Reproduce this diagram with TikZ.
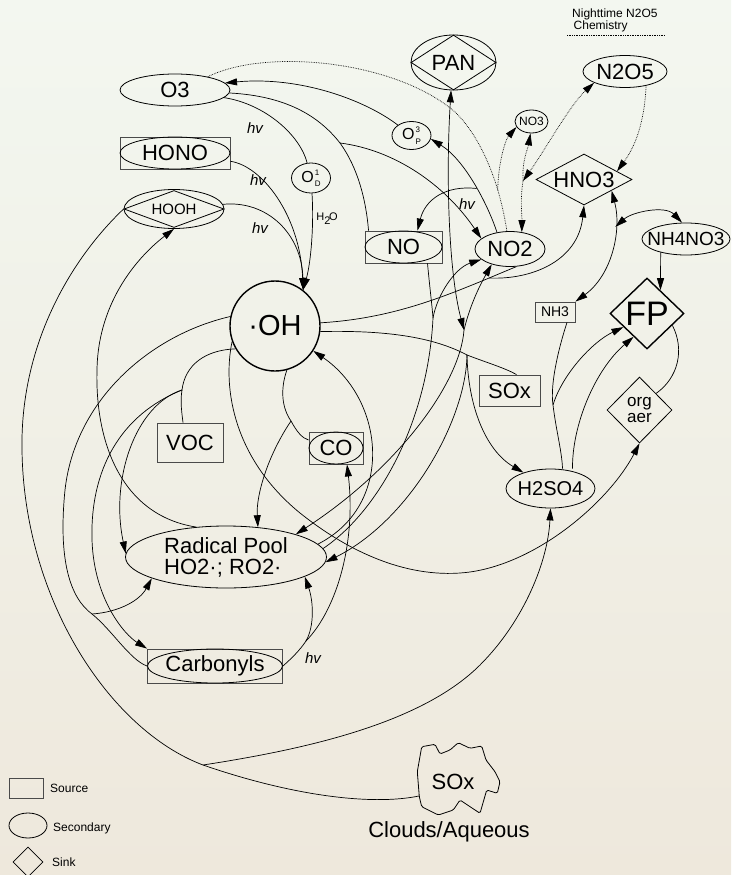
\documentclass[tikz,border=0pt]{standalone}
\usepackage{fontspec}
\setmainfont{Liberation Sans}
\usetikzlibrary{arrows.meta,shapes.geometric,positioning}
\definecolor{bgtop}{HTML}{F3F7F0}
\definecolor{bgbot}{HTML}{EEE8DC}
\definecolor{boxgray}{HTML}{4A4A4A}
\newcommand{\chemsize}[1]{\fontsize{#1}{#1}\selectfont}
\newcommand{\ostate}[2]{O\kern1.2pt\rlap{\raisebox{7pt}{\chemsize{8}#1}}\raisebox{-4.5pt}{\chemsize{8}#2}}

\begin{document}
\begin{tikzpicture}[x=1pt, y=-1pt,
    every node/.style={font=\chemsize{22}},
    src/.style={rectangle, draw=boxgray, line width=0.9pt, inner sep=0pt},
    sec/.style={ellipse, draw, line width=0.8pt, inner sep=0pt},
    sink/.style={diamond, draw, line width=0.8pt, inner sep=0pt},
    rxn/.style={line width=0.7pt},
    rxnto/.style={rxn, -{Triangle[length=12pt,width=7pt]}},
    rxnboth/.style={rxn, {Triangle[length=12pt,width=7pt]}-{Triangle[length=12pt,width=7pt]}},
    night/.style={rxn, densely dotted},
    nightto/.style={night, -{Triangle[length=12pt,width=7pt]}},
    nightboth/.style={night, {Triangle[length=12pt,width=7pt]}-{Triangle[length=12pt,width=7pt]}},
    hv/.style={font=\chemsize{15}\itshape, inner sep=0pt},
    legend/.style={font=\chemsize{12}, anchor=west, inner sep=0pt}
  ]
  \shade[top color=bgtop, bottom color=bgbot] (0,0) rectangle (731,875);
  \useasboundingbox (0,0) rectangle (731,875);

  % species
  \node[sec, minimum width=110pt, minimum height=32pt] (O3) at (175,90) {O3};
  \node[src, minimum width=110pt, minimum height=32pt] (HONO) at (175,153) {HONO};
  \node[sec, minimum width=110pt, minimum height=32pt] (HONOe) at (HONO) {};
  \node[sec, minimum width=100pt, minimum height=39pt, font=\chemsize{15}] (HOOH) at (174,209) {HOOH};
  \node[sink, minimum width=100pt, minimum height=37pt] (HOOHd) at (HOOH) {};
  \node[sec, minimum width=39pt, minimum height=30pt, font=\chemsize{16}] (O1D) at (311,178) {\ostate{1}{D}};
  \node[font=\chemsize{11}, inner sep=0pt] (H2O) at (327,219) {H\raisebox{-4pt}{2}\kern-1.5pt O};
  \node[circle, draw, line width=1.4pt, minimum size=90pt, inner sep=0pt, font=\chemsize{29}] (OH) at (275,326) {·OH};

  \node[sec, minimum width=85pt, minimum height=55pt] (PAN) at (453.5,62.5) {PAN};
  \node[sink, minimum width=85pt, minimum height=55pt] (PANd) at (PAN) {};
  \node[sec, minimum width=39pt, minimum height=28pt, font=\chemsize{16}] (O3P) at (411.5,135.5) {\ostate{3}{P}};
  \node[sec, minimum width=33pt, minimum height=23pt, inner xsep=-2pt, font=\chemsize{12}] (NO3) at (531.5,121.5) {NO3};
  \node[sec, minimum width=84pt, minimum height=32pt] (N2O5) at (625,71.5) {N2O5};
  \node[font=\chemsize{12}, align=left, anchor=north west, inner sep=0pt] (nightlbl) at (572,9) {Nighttime N2O5\\\hspace{1.5pt}Chemistry};
  \node[sink, aspect=1.9, minimum width=96pt, minimum height=51pt] (HNO3) at (584,179.5) {HNO3};
  \node[sec, minimum width=88pt, minimum height=32pt, inner xsep=-8pt, font=\chemsize{19}] (NH4NO3) at (686,239) {NH4NO3};
  \node[src, minimum width=77pt, minimum height=32pt] (NO) at (403.5,247) {NO};
  \node[sec, minimum width=77pt, minimum height=32pt] (NOe) at (NO) {};
  \node[sec, minimum width=70pt, minimum height=35pt] (NO2) at (510,249) {NO2};

  \node[src, minimum width=40pt, minimum height=20pt, font=\chemsize{14}] (NH3) at (555,312) {NH3};
  \node[sink, line width=1.4pt, minimum width=74pt, minimum height=71pt, font=\chemsize{34}] (FP) at (647,313.5) {FP};
  \node[sink, minimum width=65pt, minimum height=66pt, align=center, font=\fontsize{17}{16}\selectfont] (orgaer) at (639.5,410) {org\\aer};
  \node[src, minimum width=61pt, minimum height=31pt] (SOx) at (509.5,390.5) {SOx};
  \node[sec, minimum width=89pt, minimum height=39pt, inner xsep=-3pt, font=\chemsize{20}] (H2SO4) at (550.5,488.5) {H2SO4};

  \node[src, minimum width=66pt, minimum height=39pt] (VOC) at (190,442.5) {VOC};
  \node[src, minimum width=54pt, minimum height=32pt] (CO) at (336,448) {CO};
  \node[sec, minimum width=54pt, minimum height=32pt] (COe) at (CO) {};
  \node[sec, minimum width=201pt, minimum height=62pt, align=left, font=\fontsize{22}{21}\selectfont] (RP) at (226,557) {Radical Pool\\HO2·; RO2·};
  \node[src, minimum width=135pt, minimum height=34pt] (Carbonyls) at (215,666) {Carbonyls};
  \node[sec, minimum width=135pt, minimum height=34pt] (Carbonylse) at (Carbonyls) {};

  \draw[line width=0.8pt, rounded corners=1.5pt] (421.7,746.7) -- (435,744.3) -- (440,754) -- (450,750) -- (458.3,742.7) -- (470,748.3) -- (481.7,746) -- (486,760) -- (495,771.7) -- (500,781.7) -- (497.3,793.3) -- (486.7,790) -- (480,813.3) -- (460,800) -- (453.3,810) -- (438.3,815) -- (421.7,806.7) -- (419.3,796.7) -- (417.3,771.7) -- cycle;
  \node (cloud) at (453,782) {SOx};
  \node (aqlbl) at (449,832) {Clouds/Aqueous};
  \coordinate (cloudin) at (419,796);

  % legend
  \node[src, minimum width=34pt, minimum height=20pt] (legsrc) at (26,788) {};
  \node[legend] (legsrcl) at (50,788) {Source};
  \node[sec, minimum width=38pt, minimum height=25pt] (legsec) at (28,825.5) {};
  \node[legend] (legsecl) at (53,828) {Secondary};
  \node[sink, minimum width=30pt, minimum height=30pt] (legsink) at (28,862) {};
  \node[legend] (legsinkl) at (52,862) {Sink};

  % junctions
  \coordinate (jO3NO) at (340,143);
  \coordinate (jNO3) at (523,181);
  \coordinate (jPAN) at (464,330);
  \coordinate (jSOx) at (467,355);
  \coordinate (jNO) at (433,318);
  \coordinate (jCO) at (291,421);
  \coordinate (jVOC) at (182,390);
  \coordinate (jCarb) at (306,641);

  % photolysis to OH
  \draw[rxn] (O3) .. controls (265,104) and (300,135) .. (O1D);
  \draw[rxnto] (O1D) .. controls (314,225) and (311,262) .. (OH.52);
  \draw[rxnto] (HONO) .. controls (262,166) and (300,215) .. (OH.52);
  \draw[rxnto] (HOOH) .. controls (268,200) and (302,235) .. (OH.52);
  \node[hv] (hv1) at (255,128) {hv};
  \node[hv] (hv2) at (258,180) {hv};
  \node[hv] (hv3) at (260,228) {hv};

  % O3 / NO / NO2 / O3P
  \draw[rxn] (O3) .. controls (285,96) and (318,115) .. (jO3NO);
  \draw[rxn] (jO3NO) .. controls (358,168) and (366,200) .. ([xshift=4pt]NO.north west);
  \draw[rxnto] (jO3NO) .. controls (395,150) and (445,185) .. (NO2.160);
  \draw[rxnto] (O3P) .. controls (365,100) and (300,76) .. (O3.8);
  \draw[rxnto] (NO2.128) .. controls (488,205) and (465,160) .. (O3P.-10) coordinate[pos=.45] (jNOhv);
  \draw[rxnto] (jNOhv) .. controls (445,185) and (425,200) .. ([xshift=14pt]NO.north);
  \node[hv] (hv4) at (467,204) {hv};

  % nighttime chemistry
  \draw[night] (O3.22) .. controls (265,48) and (395,60) .. (455,112) .. controls (482,138) and (500,185) .. (NO2.100) coordinate[pos=.7] (jO3NO2);
  \draw[nightto] (jO3NO2) .. controls (498,165) and (505,140) .. (NO3.200);
  \draw[nightto] (jNO3) .. controls (522,160) and (528,148) .. (NO3.-95);
  \draw[nightto] (jNO3) .. controls (520,200) and (522,215) .. (NO2.55);
  \draw[nightboth] (jNO3) .. controls (545,150) and (570,105) .. (N2O5.-160);
  \draw[nightto] (N2O5.-34) .. controls (645,110) and (640,140) .. (HNO3.14);
  \draw[night] (567,35) -- (665,35);

  % OH + NO2, OH + SOx, PAN
  \draw[rxn] (OH.4) .. controls (400,318) and (455,292) .. (NO2.-70) coordinate[pos=.85] (jNO2);
  \draw[rxnto] (jNO2) .. controls (530,280) and (578,262) .. (HNO3.south);
  \draw[rxn] (OH.-7) .. controls (390,330) and (435,338) .. (jSOx);
  \draw[rxn] (jSOx) .. controls (485,362) and (505,368) .. ([xshift=7pt]SOx.north);
  \draw[rxnto] (jSOx) .. controls (468,405) and (485,450) .. (H2SO4);
  \draw[rxnto] (jSOx) .. controls (466,420) and (410,520) .. (RP.-3);
  \draw[rxnboth] (PAN.-95) .. controls (446,170) and (448,270) .. (jPAN);
  \draw[rxnto] (jPAN) .. controls (470,305) and (480,285) .. (NO2.-140);
  \draw[rxnto] (jPAN) .. controls (460,385) and (395,470) .. (RP.18);

  % radical pool and NO
  \draw[rxn] ([xshift=24pt]NO.south) .. controls (430,290) and (432,305) .. (jNO);
  \draw[rxn] (RP.5) .. controls (380,510) and (428,420) .. (jNO);
  \draw[rxnto] (jNO) .. controls (437,295) and (455,268) .. (NO2.-160);
  \draw[rxnto] (RP.8) .. controls (395,505) and (385,400) .. (OH.-33);

  % CO and VOC
  \draw[rxn] (OH.-75) .. controls (280,390) and (282,408) .. (jCO);
  \draw[rxn] (jCO) .. controls (297,432) and (302,438) .. ([yshift=8pt]CO.west);
  \draw[rxnto] (jCO) .. controls (268,455) and (256,495) .. (RP.43);
  \draw[rxn] (OH.-150) .. controls (205,350) and (185,365) .. (jVOC);
  \draw[rxn] (jVOC) .. controls (180,402) and (182,414) .. ([xshift=-7pt]VOC.north);
  \draw[rxnto] (jVOC) .. controls (135,405) and (110,480) .. (RP.178);
  \draw[rxnto] (jVOC) .. controls (120,415) and (90,470) .. (92,540) .. controls (94,600) and (125,635) .. (Carbonyls.north west);
  \draw[rxnto] (OH.-160) .. controls (222,390) and (235,460) .. (300,513) .. controls (350,553) and (410,580) .. (470,572) .. controls (540,562) and (610,500) .. (orgaer.south);

  % peroxide, outer arcs
  \draw[rxnto] (RP.135) .. controls (120,515) and (95,440) .. (97,370) .. controls (98,300) and (140,255) .. (HOOH.south);
  \draw[rxn] (HOOH.west) .. controls (75,255) and (20,340) .. (22,450) .. controls (24,600) and (110,730) .. (203,765) coordinate (jAq) .. controls (290,795) and (370,806) .. (cloudin);
  \draw[rxnto] (jAq) .. controls (300,750) and (420,725) .. (480,665) .. controls (525,620) and (548,560) .. (H2SO4.south);
  \draw[rxn] (OH.168) .. controls (150,335) and (75,400) .. (65,490) .. controls (58,560) and (70,598) .. (92,614) coordinate (jOHC) .. controls (112,630) and (130,660) .. (Carbonyls.west);
  \draw[rxnto] (jOHC) .. controls (120,612) and (140,600) .. (RP.-164);

  % carbonyl photolysis
  \draw[rxn] (Carbonyls.east) .. controls (292,658) and (300,650) .. (jCarb);
  \draw[rxnto] (jCarb) .. controls (315,625) and (313,600) .. (RP.-14);
  \draw[rxnto] (jCarb) .. controls (338,608) and (356,540) .. ([xshift=11pt]CO.south);
  \node[hv] (hv5) at (313,658) {hv};

  % nitrate and sulfate aerosol
  \draw[rxnboth] (HNO3.-22) .. controls (622,230) and (612,275) .. (NH3.north east) coordinate[pos=.3] (jHNO3);
  \draw[rxnboth] (jHNO3) .. controls (632,212) and (665,205) .. ([xshift=-4pt]NH4NO3.north);
  \draw[rxnto] (NH4NO3.-152) -- (FP.60);
  \draw[rxn] ([xshift=12pt]NH3.south) .. controls (558,350) and (550,385) .. (553,405) coordinate (jNH3) .. controls (556,430) and (562,452) .. ([xshift=12pt]H2SO4.north);
  \draw[rxnto] (jNH3) .. controls (562,375) and (592,342) .. (FP.-150);
  \draw[rxnto] ([xshift=22pt]H2SO4.north) .. controls (572,425) and (595,370) .. (FP.-120);
  \draw[rxn] (FP.-25) .. controls (685,350) and (678,378) .. (orgaer.45);
\end{tikzpicture}
\end{document}
